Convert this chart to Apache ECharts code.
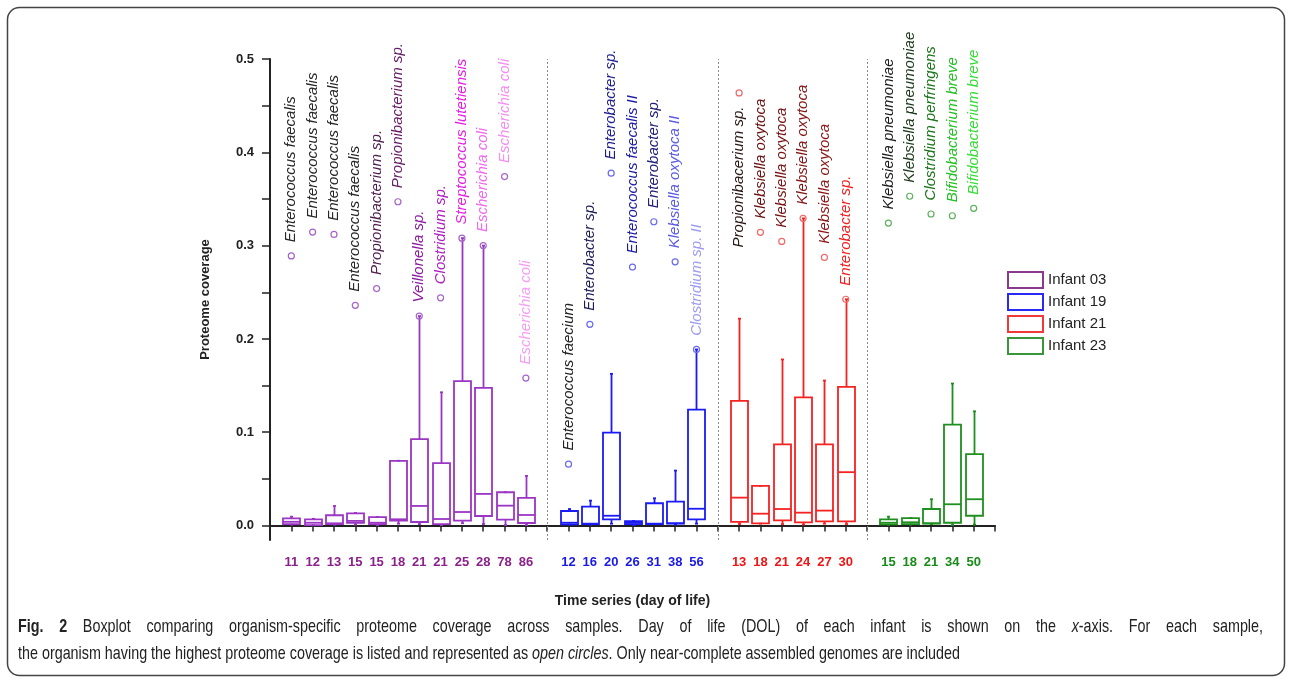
<!DOCTYPE html>
<html><head><meta charset="utf-8">
<script src="https://cdn.jsdelivr.net/npm/echarts@6/dist/echarts.min.js"></script>
<style>html,body{margin:0;padding:0;background:#fff}#c{width:1292px;height:680px}</style>
</head><body><div id="c"></div>
<script>
// ---------------- DATA ----------------
const infantNames = ['Infant 03', 'Infant 19', 'Infant 21', 'Infant 23'];

// tick labels (day of life)
const days03 = ['11','12','13','15','15','18','21','21','25','28','78','86'];
const days19 = ['12','16','20','26','31','38','56'];
const days21 = ['13','18','21','24','27','30'];
const days23 = ['15','18','21','34','50'];

// box statistics: [min, Q1, median, Q3, max]
const box03 = [
  [0.0010, 0.0016, 0.0040, 0.0077, 0.0095],
  [0.0003, 0.0005, 0.0030, 0.0067, 0.0072],
  [0.0010, 0.0016, 0.0024, 0.0110, 0.0210],
  [0.0010, 0.0030, 0.0050, 0.0131, 0.0135],
  [0.0005, 0.0016, 0.0030, 0.0090, 0.0092],
  [0.0020, 0.0052, 0.0067, 0.0694, 0.0694],
  [0.0015, 0.0038, 0.0210, 0.0927, 0.2245],
  [0.0005, 0.0016, 0.0070, 0.0669, 0.1428],
  [0.0025, 0.0052, 0.0145, 0.1547, 0.3080],
  [0.0016, 0.0102, 0.0339, 0.1475, 0.3000],
  [0.0005, 0.0063, 0.0213, 0.0357, 0.0357],
  [0.0005, 0.0027, 0.0113, 0.0296, 0.0532]
];
const box19 = [
  [0.0010, 0.0013, 0.0030, 0.0156, 0.0177],
  [0.0010, 0.0016, 0.0020, 0.0202, 0.0267],
  [0.0020, 0.0067, 0.0105, 0.0995, 0.1626],
  [0.0005, 0.0016, 0.0030, 0.0048, 0.0050],
  [0.0015, 0.0016, 0.0020, 0.0239, 0.0292],
  [0.0010, 0.0020, 0.0025, 0.0256, 0.0589],
  [0.0020, 0.0067, 0.0180, 0.1242, 0.1887]
];
const box21 = [
  [0.0016, 0.0040, 0.0299, 0.1335, 0.2217],
  [0.0020, 0.0023, 0.0127, 0.0425, 0.0425],
  [0.0016, 0.0056, 0.0177, 0.0869, 0.1780],
  [0.0010, 0.0034, 0.0138, 0.1374, 0.3292],
  [0.0020, 0.0045, 0.0160, 0.0869, 0.1554],
  [0.0016, 0.0045, 0.0572, 0.1486, 0.2425]
];
const box23 = [
  [0.0010, 0.0013, 0.0030, 0.0067, 0.0095],
  [0.0010, 0.0016, 0.0035, 0.0080, 0.0080],
  [0.0015, 0.0020, 0.0025, 0.0177, 0.0282],
  [0.0005, 0.0030, 0.0228, 0.1081, 0.1522],
  [0.0010, 0.0105, 0.0282, 0.0765, 0.1224]
];

// highest-coverage organism per sample (open circles)
const top03 = [0.289, 0.3145, 0.312, 0.236, 0.254, 0.347, 0.2245, 0.244, 0.308, 0.300, 0.374, 0.158];
const org03 = ['Enterococcus faecalis','Enterococcus faecalis','Enterococcus faecalis','Enterococcus faecalis',
  'Propionibacterium sp.','Propionibacterium sp.','Veillonella sp.','Clostridium sp.',
  'Streptococcus lutetiensis','Escherichia coli','Escherichia coli','Escherichia coli'];
const top19 = [0.0658, 0.2156, 0.3776, 0.277, 0.3256, 0.2826, 0.1887];
const org19 = ['Enterococcus faecium','Enterobacter sp.','Enterobacter sp.','Enterococcus faecalis II',
  'Enterobacter sp.','Klebsiella oxytoca II','Clostridium sp. II'];
const top21 = [0.4636, 0.3142, 0.3045, 0.3292, 0.2873, 0.2425];
const org21 = ['Propionibacerium sp.','Klebsiella oxytoca','Klebsiella oxytoca','Klebsiella oxytoca',
  'Klebsiella oxytoca','Enterobacter sp.'];
const top23 = [0.3242, 0.3529, 0.3339, 0.332, 0.340];
const org23 = ['Klebsiella pneumoniae','Klebsiella pneumoniae','Clostridium perfringens',
  'Bifidobacterium breve','Bifidobacterium breve'];

const yTicks = [0, 0.05, 0.1, 0.15, 0.2, 0.25, 0.3, 0.35, 0.4, 0.45, 0.5];
const yLabels = [0, 0.1, 0.2, 0.3, 0.4, 0.5];

// ---------------- STYLE ----------------
const FONT = '"Liberation Sans", Arial, Helvetica, sans-serif';
const boxColors = ['#9b35c4', '#1a1af5', '#f52222', '#1f8f1f'];
const dayColors = ['#8b218b', '#1a1ae6', '#ee1515', '#178a17'];
const circleColors = ['#a565c8', '#6a6af0', '#f06a6a', '#5fb05f'];
const legendColors = ['#8b3a8b', '#2a2af5', '#f03a3a', '#3a963a'];
const labelColors = [
  ['#262626','#262626','#262626','#262626','#4e1d4e','#661c66','#8c1aa0','#b01ec2','#e41ee4','#f068ec','#f58cf2','#f79cf4'],
  ['#222222','#1c1c55','#1c1c8c','#1a1aa6','#20207a','#5a5ae6','#9c9cf2'],
  ['#2a1414','#6a1010','#761212','#821414','#8c1414','#f02020'],
  ['#1c1c1c','#1c381c','#1a761a','#22c022','#36dc36']
];
const labelBelow = { '2-0': true };

// ---------------- BUILD ----------------
const groups = [days03, days19, days21, days23];
const boxes = [box03, box19, box21, box23];
const tops = [top03, top19, top21, top23];
const orgs = [org03, org19, org21, org23];

const catLabel = [''], catGroup = [-1], sepIdx = [], groupIdx = [];
groups.forEach((g, gi) => {
  groupIdx.push([]);
  g.forEach(d => { groupIdx[gi].push(catLabel.length); catLabel.push(d); catGroup.push(gi); });
  sepIdx.push(catLabel.length); catLabel.push(''); catGroup.push(-1);
});
const cats = catLabel.map((_, i) => String(i));

const boxData = [];
boxes.forEach((b, gi) => b.forEach((s, i) => boxData.push([groupIdx[gi][i], s[0], s[1], s[2], s[3], s[4], gi])));

function renderBox(params, api) {
  const x = api.value(0);
  const gi = api.value(6);
  const pMin = api.coord([x, api.value(1)]);
  const pQ1 = api.coord([x, api.value(2)]);
  const pMed = api.coord([x, api.value(3)]);
  const pQ3 = api.coord([x, api.value(4)]);
  const pMax = api.coord([x, api.value(5)]);
  const cx = Math.round(pMed[0]) + 0.5;
  const hw = 8.5, cap = 1.5;
  const style = { stroke: boxColors[gi], lineWidth: 1.8, fill: null };
  return {
    type: 'group',
    children: [
      { type: 'line', shape: { x1: cx, y1: pQ3[1], x2: cx, y2: pMax[1] }, style },
      { type: 'line', shape: { x1: cx - cap, y1: pMax[1], x2: cx + cap, y2: pMax[1] }, style },
      { type: 'line', shape: { x1: cx, y1: pQ1[1], x2: cx, y2: pMin[1] }, style },
      { type: 'line', shape: { x1: cx - cap, y1: pMin[1], x2: cx + cap, y2: pMin[1] }, style },
      { type: 'rect', shape: { x: cx - hw, y: pQ3[1], width: 2 * hw, height: pQ1[1] - pQ3[1] }, style },
      { type: 'line', shape: { x1: cx - hw, y1: pMed[1], x2: cx + hw, y2: pMed[1] }, style }
    ]
  };
}

const scatterSeries = tops.map((t, gi) => ({
  type: 'scatter',
  name: infantNames[gi],
  symbol: 'circle',
  symbolSize: 6,
  itemStyle: { color: 'rgba(255,255,255,0)', borderColor: circleColors[gi], borderWidth: 1.2, opacity: 1 },
  emphasis: { disabled: true },
  z: 5,
  label: {
    show: true, position: 'top', distance: 10, rotate: 90, align: 'left', verticalAlign: 'middle',
    fontStyle: 'italic', fontSize: 15, fontFamily: FONT,
    formatter: p => p.name
  },
  data: t.map((v, i) => {
    const below = labelBelow[gi + '-' + i];
    const lab = { color: labelColors[gi][i] };
    if (below) { lab.position = 'bottom'; lab.align = 'right'; }
    return { name: orgs[gi][i], value: [groupIdx[gi][i], v], label: lab };
  })
}));
scatterSeries[0].markLine = {
  silent: true, symbol: 'none', animation: false,
  label: { show: false },
  lineStyle: { type: [2, 2], color: '#8a8a8a', width: 1 },
  data: sepIdx.slice(0, 3).map(i => ({ xAxis: i }))
};

// ---------------- CAPTION ----------------
const capFamily = '"Liberation Sans", Arial, sans-serif';
const capSize = 19;
const capLines = [
  { text: '*Fig.* *2* Boxplot comparing organism-specific proteome coverage across samples. Day of life (DOL) of each infant is shown on the _x_-axis. For each sample,', y: 627, justify: true },
  { text: 'the organism having the highest proteome coverage is listed and represented as _open_ _circles_. Only near-complete assembled genomes are included', y: 654, justify: false }
];
const capLeft = 18, capRight = 1263, line2End = 960;
const mctx = document.createElement('canvas').getContext('2d');
function segFont(kind) {
  return (kind === 'i' ? 'italic ' : 'normal ') + (kind === 'b' ? 'bold ' : 'normal ') + capSize + 'px ' + capFamily;
}
function measure(t, kind) { mctx.font = segFont(kind); return mctx.measureText(t).width; }
function parseLine(text) {
  return text.split(' ').map(w => {
    const segs = [];
    w.replace(/\*([^*]+)\*|_([^_]+)_|([^*_]+)/g, (m, b, it, n) => {
      if (b) segs.push({ t: b, k: 'b' }); else if (it) segs.push({ t: it, k: 'i' }); else segs.push({ t: n, k: 'n' });
      return m;
    });
    segs.forEach(s => s.w = measure(s.t, s.k));
    return { segs, w: segs.reduce((a, s) => a + s.w, 0) };
  });
}
const parsed = capLines.map(l => parseLine(l.text));
const spaceW = measure(' ', 'n');
// one horizontal condensing factor for the caption face, set by the free-running last line
const l2 = parsed[1];
const l2w = l2.reduce((a, w) => a + w.w, 0) + spaceW * (l2.length - 1);
const kx = (line2End - capLeft) / l2w;
const capGraphics = [];
capLines.forEach((line, li) => {
  const words = parsed[li];
  const total = words.reduce((a, w) => a + w.w, 0) * kx;
  const gap = line.justify ? (capRight - capLeft - total) / (words.length - 1) : spaceW * kx;
  let x = capLeft;
  words.forEach(w => {
    w.segs.forEach(s => {
      capGraphics.push({
        type: 'text', x: x, y: line.y, scaleX: kx, silent: true,
        style: { text: s.t, x: 0, y: 0, fill: '#222', fontSize: capSize, fontFamily: capFamily,
          fontWeight: s.k === 'b' ? 'bold' : 'normal', fontStyle: s.k === 'i' ? 'italic' : 'normal',
          verticalAlign: 'middle', align: 'left' }
      });
      x += s.w * kx;
    });
    x += gap;
  });
});

// ---------------- CHART ----------------
const chart = echarts.init(document.getElementById('c'), null, { renderer: 'canvas' });
chart.setOption({
  animation: false,
  backgroundColor: '#fff',
  textStyle: { fontFamily: FONT },
  grid: { left: 270, right: 297, top: 59, bottom: 140, containLabel: false },
  legend: {
    orient: 'vertical', left: 1002, top: 266, itemWidth: 35, itemHeight: 16, itemGap: 4,
    selectedMode: false,
    textStyle: { fontSize: 15, color: '#222', fontFamily: FONT },
    data: infantNames.map((n, i) => ({ name: n, icon: 'rect', itemStyle: { color: '#fff', borderColor: legendColors[i], borderWidth: 2 } }))
  },
  xAxis: {
    type: 'category', data: cats, boundaryGap: false,
    name: 'Time series (day of life)', nameLocation: 'middle', nameGap: 54,
    nameTextStyle: { fontWeight: 'bold', fontSize: 14, color: '#222', fontFamily: FONT },
    axisLine: { lineStyle: { color: '#222', width: 2 } },
    axisTick: { show: true, interval: 0, length: 6, lineStyle: { color: '#222', width: 1.5 } },
    axisLabel: {
      interval: 0, margin: 16,
      formatter: (v, idx) => catGroup[idx] < 0 ? '' : '{g' + catGroup[idx] + '|' + catLabel[idx] + '}',
      rich: {
        g0: { color: dayColors[0], fontWeight: 'bold', fontSize: 13, fontFamily: FONT },
        g1: { color: dayColors[1], fontWeight: 'bold', fontSize: 13, fontFamily: FONT },
        g2: { color: dayColors[2], fontWeight: 'bold', fontSize: 13, fontFamily: FONT },
        g3: { color: dayColors[3], fontWeight: 'bold', fontSize: 13, fontFamily: FONT }
      }
    },
    splitLine: { show: false }
  },
  yAxis: {
    type: 'value', min: -0.0155, max: 0.5,
    name: 'Proteome coverage', nameLocation: 'middle', nameGap: 58, nameRotate: 90,
    nameTextStyle: { fontWeight: 'bold', fontSize: 13, color: '#222', fontFamily: FONT },
    axisLine: { show: true, lineStyle: { color: '#222', width: 2 } },
    axisTick: { show: true, length: 8, customValues: yTicks, lineStyle: { color: '#222', width: 1.5 } },
    axisLabel: { customValues: yLabels, margin: 16, fontWeight: 'bold', fontSize: 13, color: '#222', fontFamily: FONT,
      formatter: v => v.toFixed(1) },
    splitLine: { show: false }
  },
  graphic: [
    { type: 'rect', silent: true, z: -1, shape: { x: 7.5, y: 7.5, width: 1277, height: 668, r: 12 },
      style: { fill: 'none', stroke: '#444', lineWidth: 1.5 } }
  ].concat(capGraphics),
  series: [
    {
      type: 'custom', name: 'boxes', renderItem: renderBox,
      encode: { x: 0, y: [1, 2, 3, 4, 5] },
      data: boxData, z: 3, silent: true
    }
  ].concat(scatterSeries)
});
</script>
</body></html>
